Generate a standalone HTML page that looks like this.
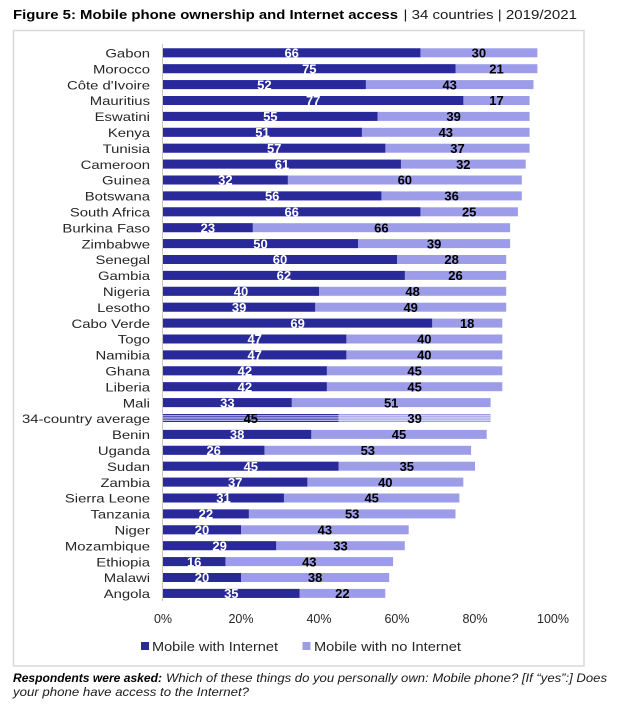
<!DOCTYPE html>
<html><head><meta charset="utf-8"><style>
html,body{margin:0;padding:0;background:#fff;}
svg{display:block;}
text{font-family:"Liberation Sans",Arial,sans-serif;}
.lb{font-size:12px;fill:#262626;}
.w{font-size:13px;font-weight:bold;fill:#fff;text-anchor:middle;}
.k{font-size:13px;font-weight:bold;fill:#000;text-anchor:middle;}
.t{font-size:12.5px;fill:#262626;text-anchor:middle;}
</style></head><body>
<svg width="634" height="717" viewBox="0 0 634 717" xmlns="http://www.w3.org/2000/svg">
<rect width="634" height="717" fill="#fff"/>
<text x="13" y="19" font-size="13" font-weight="bold" fill="#000" textLength="385" lengthAdjust="spacingAndGlyphs">Figure 5: Mobile phone ownership and Internet access</text>
<text x="403.5" y="19" font-size="13" fill="#1a1a1a" textLength="173.5" lengthAdjust="spacingAndGlyphs">| 34 countries | 2019/2021</text>
<rect x="13.5" y="30.5" width="570.5" height="635.5" fill="#fff" stroke="#D9D9D9" stroke-width="1.5"/>
<line x1="162.5" y1="44" x2="162.5" y2="601" stroke="#C8C8C8" stroke-width="1"/>

<g id="bars">
<!-- light (total) bars -->
<g fill="#9C9CE8">
<rect x="163" y="48.3" width="374.4" height="9"/>
<rect x="163" y="64.2" width="374.4" height="9"/>
<rect x="163" y="80.1" width="370.5" height="9"/>
<rect x="163" y="96.0" width="366.6" height="9"/>
<rect x="163" y="111.9" width="366.6" height="9"/>
<rect x="163" y="127.8" width="366.6" height="9"/>
<rect x="163" y="143.7" width="366.6" height="9"/>
<rect x="163" y="159.6" width="362.7" height="9"/>
<rect x="163" y="175.5" width="358.8" height="9"/>
<rect x="163" y="191.4" width="358.8" height="9"/>
<rect x="163" y="207.3" width="354.9" height="9"/>
<rect x="163" y="223.2" width="347.1" height="9"/>
<rect x="163" y="239.1" width="347.1" height="9"/>
<rect x="163" y="255.0" width="343.2" height="9"/>
<rect x="163" y="270.9" width="343.2" height="9"/>
<rect x="163" y="286.8" width="343.2" height="9"/>
<rect x="163" y="302.7" width="343.2" height="9"/>
<rect x="163" y="318.6" width="339.3" height="9"/>
<rect x="163" y="334.5" width="339.3" height="9"/>
<rect x="163" y="350.4" width="339.3" height="9"/>
<rect x="163" y="366.3" width="339.3" height="9"/>
<rect x="163" y="382.2" width="339.3" height="9"/>
<rect x="163" y="398.1" width="327.6" height="9"/>
<rect x="163" y="429.9" width="323.7" height="9"/>
<rect x="163" y="445.8" width="308.1" height="9"/>
<rect x="163" y="461.7" width="312" height="9"/>
<rect x="163" y="477.6" width="300.3" height="9"/>
<rect x="163" y="493.5" width="296.4" height="9"/>
<rect x="163" y="509.4" width="292.5" height="9"/>
<rect x="163" y="525.3" width="245.7" height="9"/>
<rect x="163" y="541.2" width="241.8" height="9"/>
<rect x="163" y="557.1" width="230.1" height="9"/>
<rect x="163" y="573.0" width="226.2" height="9"/>
<rect x="163" y="588.9" width="222.3" height="9"/>
</g>
<!-- dark bars -->
<g fill="#29299A">
<rect x="163" y="48.3" width="257.4" height="9"/>
<rect x="163" y="64.2" width="292.5" height="9"/>
<rect x="163" y="80.1" width="202.8" height="9"/>
<rect x="163" y="96.0" width="300.3" height="9"/>
<rect x="163" y="111.9" width="214.5" height="9"/>
<rect x="163" y="127.8" width="198.9" height="9"/>
<rect x="163" y="143.7" width="222.3" height="9"/>
<rect x="163" y="159.6" width="237.9" height="9"/>
<rect x="163" y="175.5" width="124.8" height="9"/>
<rect x="163" y="191.4" width="218.4" height="9"/>
<rect x="163" y="207.3" width="257.4" height="9"/>
<rect x="163" y="223.2" width="89.7" height="9"/>
<rect x="163" y="239.1" width="195" height="9"/>
<rect x="163" y="255.0" width="234" height="9"/>
<rect x="163" y="270.9" width="241.8" height="9"/>
<rect x="163" y="286.8" width="156" height="9"/>
<rect x="163" y="302.7" width="152.1" height="9"/>
<rect x="163" y="318.6" width="269.1" height="9"/>
<rect x="163" y="334.5" width="183.3" height="9"/>
<rect x="163" y="350.4" width="183.3" height="9"/>
<rect x="163" y="366.3" width="163.8" height="9"/>
<rect x="163" y="382.2" width="163.8" height="9"/>
<rect x="163" y="398.1" width="128.7" height="9"/>
<rect x="163" y="429.9" width="148.2" height="9"/>
<rect x="163" y="445.8" width="101.4" height="9"/>
<rect x="163" y="461.7" width="175.5" height="9"/>
<rect x="163" y="477.6" width="144.3" height="9"/>
<rect x="163" y="493.5" width="120.9" height="9"/>
<rect x="163" y="509.4" width="85.8" height="9"/>
<rect x="163" y="525.3" width="78" height="9"/>
<rect x="163" y="541.2" width="113.1" height="9"/>
<rect x="163" y="557.1" width="62.4" height="9"/>
<rect x="163" y="573.0" width="78" height="9"/>
<rect x="163" y="588.9" width="136.5" height="9"/>
</g>
<!-- average row striped -->
<rect x="163" y="414" width="175.5" height="8" fill="#C4C4EE"/>
<rect x="338.5" y="414" width="152.1" height="8" fill="#DCDCF7"/>
<g fill="#2E2E9C">
<rect x="163" y="414" width="175.5" height="1.2"/>
<rect x="163" y="416.3" width="175.5" height="1"/>
<rect x="163" y="418.6" width="175.5" height="1"/>
<rect x="163" y="420.9" width="175.5" height="1.1"/>
</g>
<g fill="#9C9CE8">
<rect x="338.5" y="414" width="152.1" height="1.2"/>
<rect x="338.5" y="416.3" width="152.1" height="1"/>
<rect x="338.5" y="418.6" width="152.1" height="1"/>
<rect x="338.5" y="420.9" width="152.1" height="1.1"/>
</g>
</g>

<!-- value labels -->
<g>
<text class="w" x="291.7" y="57.5">66</text><text class="k" x="478.9" y="57.5">30</text>
<text class="w" x="309.3" y="73.4">75</text><text class="k" x="496.5" y="73.4">21</text>
<text class="w" x="264.4" y="89.3">52</text><text class="k" x="449.7" y="89.3">43</text>
<text class="w" x="313.2" y="105.2">77</text><text class="k" x="496.5" y="105.2">17</text>
<text class="w" x="270.3" y="121.1">55</text><text class="k" x="453.6" y="121.1">39</text>
<text class="w" x="262.5" y="137.0">51</text><text class="k" x="445.8" y="137.0">43</text>
<text class="w" x="274.2" y="152.9">57</text><text class="k" x="457.5" y="152.9">37</text>
<text class="w" x="282.0" y="168.8">61</text><text class="k" x="463.3" y="168.8">32</text>
<text class="w" x="225.4" y="184.7">32</text><text class="k" x="404.8" y="184.7">60</text>
<text class="w" x="272.2" y="200.6">56</text><text class="k" x="451.6" y="200.6">36</text>
<text class="w" x="291.7" y="216.5">66</text><text class="k" x="469.2" y="216.5">25</text>
<text class="w" x="207.9" y="232.4">23</text><text class="k" x="381.4" y="232.4">66</text>
<text class="w" x="260.5" y="248.3">50</text><text class="k" x="434.1" y="248.3">39</text>
<text class="w" x="280.0" y="264.2">60</text><text class="k" x="451.6" y="264.2">28</text>
<text class="w" x="283.9" y="280.1">62</text><text class="k" x="455.5" y="280.1">26</text>
<text class="w" x="241.0" y="296.0">40</text><text class="k" x="412.6" y="296.0">48</text>
<text class="w" x="239.1" y="311.9">39</text><text class="k" x="410.7" y="311.9">49</text>
<text class="w" x="297.6" y="327.8">69</text><text class="k" x="467.2" y="327.8">18</text>
<text class="w" x="254.7" y="343.7">47</text><text class="k" x="424.3" y="343.7">40</text>
<text class="w" x="254.7" y="359.6">47</text><text class="k" x="424.3" y="359.6">40</text>
<text class="w" x="244.9" y="375.5">42</text><text class="k" x="414.6" y="375.5">45</text>
<text class="w" x="244.9" y="391.4">42</text><text class="k" x="414.6" y="391.4">45</text>
<text class="w" x="227.4" y="407.3">33</text><text class="k" x="391.2" y="407.3">51</text>
<text class="k" x="250.8" y="423.2">45</text><text class="k" x="414.6" y="423.2">39</text>
<text class="w" x="237.1" y="439.1">38</text><text class="k" x="399.0" y="439.1">45</text>
<text class="w" x="213.7" y="455.0">26</text><text class="k" x="367.8" y="455.0">53</text>
<text class="w" x="250.8" y="470.9">45</text><text class="k" x="406.8" y="470.9">35</text>
<text class="w" x="235.2" y="486.8">37</text><text class="k" x="385.3" y="486.8">40</text>
<text class="w" x="223.5" y="502.7">31</text><text class="k" x="371.7" y="502.7">45</text>
<text class="w" x="205.9" y="518.6">22</text><text class="k" x="352.2" y="518.6">53</text>
<text class="w" x="202.0" y="534.5">20</text><text class="k" x="324.9" y="534.5">43</text>
<text class="w" x="219.6" y="550.4">29</text><text class="k" x="340.5" y="550.4">33</text>
<text class="w" x="194.2" y="566.3">16</text><text class="k" x="309.3" y="566.3">43</text>
<text class="w" x="202.0" y="582.2">20</text><text class="k" x="315.1" y="582.2">38</text>
<text class="w" x="231.3" y="598.1">35</text><text class="k" x="342.4" y="598.1">22</text>
</g>

<!-- country labels -->
<g class="lb" text-anchor="end">
<text transform="translate(150,57.5) scale(1.24,1)">Gabon</text>
<text transform="translate(150,73.4) scale(1.24,1)">Morocco</text>
<text transform="translate(150,89.3) scale(1.24,1)">Côte d'Ivoire</text>
<text transform="translate(150,105.2) scale(1.24,1)">Mauritius</text>
<text transform="translate(150,121.1) scale(1.24,1)">Eswatini</text>
<text transform="translate(150,137.0) scale(1.24,1)">Kenya</text>
<text transform="translate(150,152.9) scale(1.24,1)">Tunisia</text>
<text transform="translate(150,168.8) scale(1.24,1)">Cameroon</text>
<text transform="translate(150,184.7) scale(1.24,1)">Guinea</text>
<text transform="translate(150,200.6) scale(1.24,1)">Botswana</text>
<text transform="translate(150,216.5) scale(1.24,1)">South Africa</text>
<text transform="translate(150,232.4) scale(1.24,1)">Burkina Faso</text>
<text transform="translate(150,248.3) scale(1.24,1)">Zimbabwe</text>
<text transform="translate(150,264.2) scale(1.24,1)">Senegal</text>
<text transform="translate(150,280.1) scale(1.24,1)">Gambia</text>
<text transform="translate(150,296.0) scale(1.24,1)">Nigeria</text>
<text transform="translate(150,311.9) scale(1.24,1)">Lesotho</text>
<text transform="translate(150,327.8) scale(1.24,1)">Cabo Verde</text>
<text transform="translate(150,343.7) scale(1.24,1)">Togo</text>
<text transform="translate(150,359.6) scale(1.24,1)">Namibia</text>
<text transform="translate(150,375.5) scale(1.24,1)">Ghana</text>
<text transform="translate(150,391.4) scale(1.24,1)">Liberia</text>
<text transform="translate(150,407.3) scale(1.24,1)">Mali</text>
<text transform="translate(150,423.2) scale(1.24,1)">34-country average</text>
<text transform="translate(150,439.1) scale(1.24,1)">Benin</text>
<text transform="translate(150,455.0) scale(1.24,1)">Uganda</text>
<text transform="translate(150,470.9) scale(1.24,1)">Sudan</text>
<text transform="translate(150,486.8) scale(1.24,1)">Zambia</text>
<text transform="translate(150,502.7) scale(1.24,1)">Sierra Leone</text>
<text transform="translate(150,518.6) scale(1.24,1)">Tanzania</text>
<text transform="translate(150,534.5) scale(1.24,1)">Niger</text>
<text transform="translate(150,550.4) scale(1.24,1)">Mozambique</text>
<text transform="translate(150,566.3) scale(1.24,1)">Ethiopia</text>
<text transform="translate(150,582.2) scale(1.24,1)">Malawi</text>
<text transform="translate(150,598.1) scale(1.24,1)">Angola</text>
</g>

<!-- ticks -->
<g>
<text class="t" x="163" y="623">0%</text>
<text class="t" x="241" y="623">20%</text>
<text class="t" x="319" y="623">40%</text>
<text class="t" x="397" y="623">60%</text>
<text class="t" x="475" y="623">80%</text>
<text class="t" x="553" y="623">100%</text>
</g>

<!-- legend -->
<rect x="141" y="642" width="8" height="8" fill="#29299A"/>
<text x="152" y="651" font-size="13" fill="#262626" textLength="126" lengthAdjust="spacingAndGlyphs">Mobile with Internet</text>
<rect x="302.5" y="642" width="8" height="8" fill="#9C9CE8"/>
<text x="314" y="651" font-size="13" fill="#262626" textLength="147" lengthAdjust="spacingAndGlyphs">Mobile with no Internet</text>

<!-- footnote -->
<text x="13" y="682" font-size="12" font-weight="bold" font-style="italic" fill="#000" textLength="149" lengthAdjust="spacingAndGlyphs">Respondents were asked:</text>
<text x="166" y="682" font-size="12" font-style="italic" fill="#1a1a1a" textLength="441" lengthAdjust="spacingAndGlyphs">Which of these things do you personally own: Mobile phone? [If “yes”:] Does</text>
<text x="13" y="696" font-size="12" font-style="italic" fill="#1a1a1a" textLength="236" lengthAdjust="spacingAndGlyphs">your phone have access to the Internet?</text>
</svg>
</body></html>
